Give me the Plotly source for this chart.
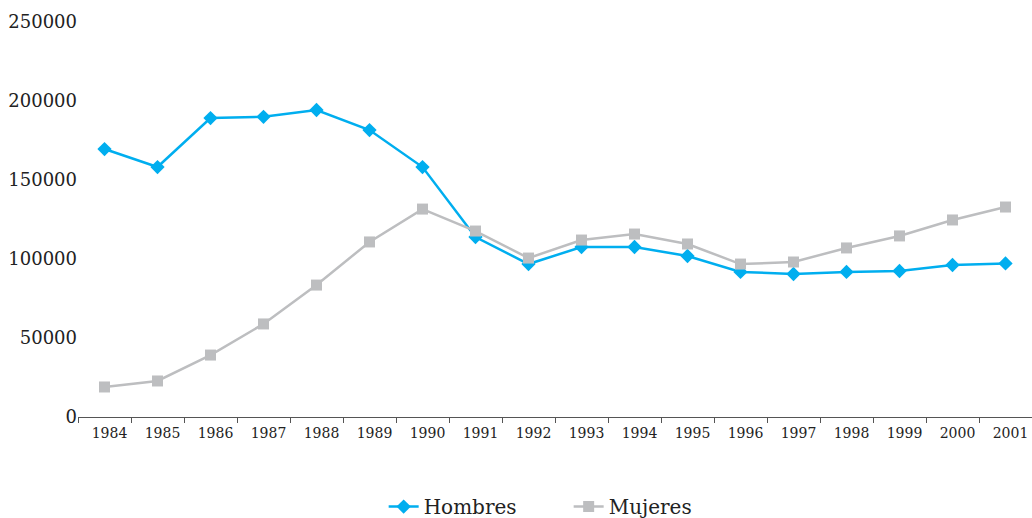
import plotly.graph_objects as go

years = [str(y) for y in range(1984, 2002)]
hombres = [169600, 158200, 189200, 190000, 194300, 181600, 158200, 113900, 96800,
           107600, 107600, 101900, 91800, 90500, 91800, 92400, 96200, 97200]
mujeres = [19000, 22800, 39200, 58900, 83500, 110800, 131600, 117700, 100600,
           112000, 115800, 109500, 96800, 98100, 107000, 114600, 124700, 132900]
y_ticks = [0, 50000, 100000, 150000, 200000, 250000]
y_labels = ['0', '50000', '100000', '150000', '200000', '250000']

fig = go.Figure()
fig.add_trace(go.Scatter(
    x=years, y=hombres, name='Hombres', mode='lines+markers',
    line=dict(color='#00aeef', width=2.5),
    marker=dict(symbol='diamond', size=11, color='#00aeef')
))
fig.add_trace(go.Scatter(
    x=years, y=mujeres, name='Mujeres', mode='lines+markers',
    line=dict(color='#bdbec0', width=2.5),
    marker=dict(symbol='square', size=11, color='#bdbec0')
))

fig.update_layout(
    width=1032, height=518,
    margin=dict(l=78, r=0, t=22, b=101),
    plot_bgcolor='white', paper_bgcolor='white',
    font=dict(family='DejaVu Serif', color='#222'),
    showlegend=True,
    legend=dict(orientation='h', x=0.3204, xanchor='left', xref='paper',
                y=0.022, yanchor='middle', yref='container',
                font=dict(size=20), entrywidth=140, entrywidthmode='pixels'),
)
fig.update_xaxes(
    type='category', showgrid=False, showline=True, linecolor='#555', linewidth=1,
    ticks='outside', tickson='boundaries', ticklen=5, tickcolor='#555',
    tickfont=dict(size=14), ticklabelshift=5, ticklabelstandoff=3,
    range=[-0.5, 17.5], automargin=False
)
fig.update_yaxes(
    range=[0, 250000], tickvals=y_ticks, ticktext=y_labels, showgrid=False,
    zeroline=False, showline=False, ticks='', tickfont=dict(size=18),
    automargin=False
)

# drop the default body margin so the figure sits in the page corner
fig.write_html("out.html", config={'displayModeBar': False},
               post_script="document.body.style.margin='0';")
